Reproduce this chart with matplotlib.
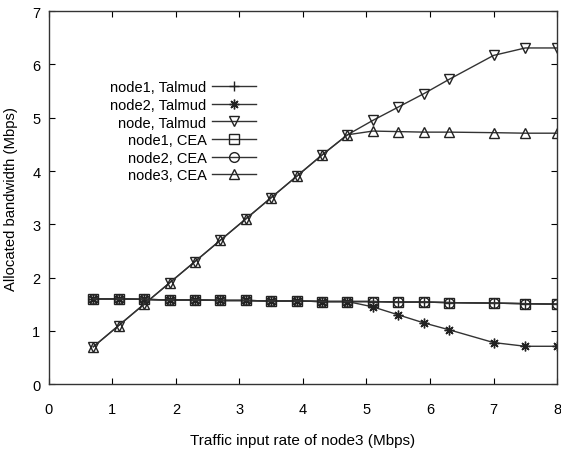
import matplotlib
matplotlib.use("Agg")
from matplotlib import pyplot as plt

plt.rcParams['font.family'] = ['Liberation Sans', 'DejaVu Sans']

# traffic input rate of node3 (Mbps)
rate = [0.7, 1.1, 1.5, 1.9, 2.3, 2.7, 3.1, 3.5, 3.9, 4.3, 4.7, 5.1, 5.5, 5.9, 6.3, 7.0, 7.5, 8.0]

node1_talmud = [1.6, 1.6, 1.59, 1.58, 1.58, 1.57, 1.57, 1.56, 1.56, 1.55, 1.55, 1.55, 1.54, 1.54, 1.53, 1.52, 1.51, 1.5]
node2_talmud = [1.6, 1.6, 1.59, 1.58, 1.58, 1.57, 1.57, 1.56, 1.56, 1.55, 1.55, 1.45, 1.3, 1.15, 1.02, 0.78, 0.71, 0.71]
node3_talmud = [0.7, 1.1, 1.5, 1.9, 2.3, 2.7, 3.1, 3.5, 3.9, 4.3, 4.68, 4.95, 5.2, 5.45, 5.72, 6.17, 6.31, 6.31]
node1_cea = [1.6, 1.6, 1.59, 1.58, 1.58, 1.57, 1.57, 1.56, 1.56, 1.55, 1.55, 1.55, 1.54, 1.54, 1.53, 1.52, 1.51, 1.5]
node2_cea = [1.6, 1.6, 1.59, 1.58, 1.58, 1.57, 1.57, 1.56, 1.56, 1.55, 1.55, 1.55, 1.54, 1.54, 1.53, 1.52, 1.51, 1.5]
node3_cea = [0.7, 1.1, 1.5, 1.9, 2.3, 2.7, 3.1, 3.5, 3.9, 4.3, 4.68, 4.75, 4.74, 4.73, 4.73, 4.72, 4.71, 4.71]

labels = ['node1, Talmud', 'node2, Talmud', 'node, Talmud', 'node1, CEA', 'node2, CEA', 'node3, CEA']
series = [node1_talmud, node2_talmud, node3_talmud, node1_cea, node2_cea, node3_cea]
markers = ['+', (8, 2, 0), 'v', 's', 'o', '^']

fig = plt.figure(figsize=(5.61, 4.52), dpi=100)
ax = fig.add_axes([0.087, 0.148, 0.906, 0.825])

for ys, lab, mk in zip(series, labels, markers):
    ax.plot(rate, ys, color='#333333', lw=1.0, marker=mk, markersize=7,
            markerfacecolor='none', markeredgecolor='#222222', markeredgewidth=1.0, label=lab)

ax.set_xlim(0, 8)
ax.set_ylim(0, 7)
ax.set_xticks(range(0, 9))
ax.set_yticks(range(0, 8))
ax.tick_params(direction='in', top=True, right=True, length=4, labelsize=10.5)
ax.tick_params(axis='x', pad=13)
ax.tick_params(axis='y', pad=6)
for s in ax.spines.values():
    s.set_linewidth(1.0)
    s.set_color('#333333')

ax.set_xlabel('Traffic input rate of node3 (Mbps)', fontsize=11, labelpad=12)
ax.set_ylabel('Allocated bandwidth (Mbps)', fontsize=10.7, labelpad=10)

ax.legend(loc='upper left', bbox_to_anchor=(0.095, 0.85), frameon=False, markerfirst=False,
          fontsize=10.5, handlelength=3.0, labelspacing=0.25, handletextpad=0.4)

fig.savefig('out.png', dpi=100)
